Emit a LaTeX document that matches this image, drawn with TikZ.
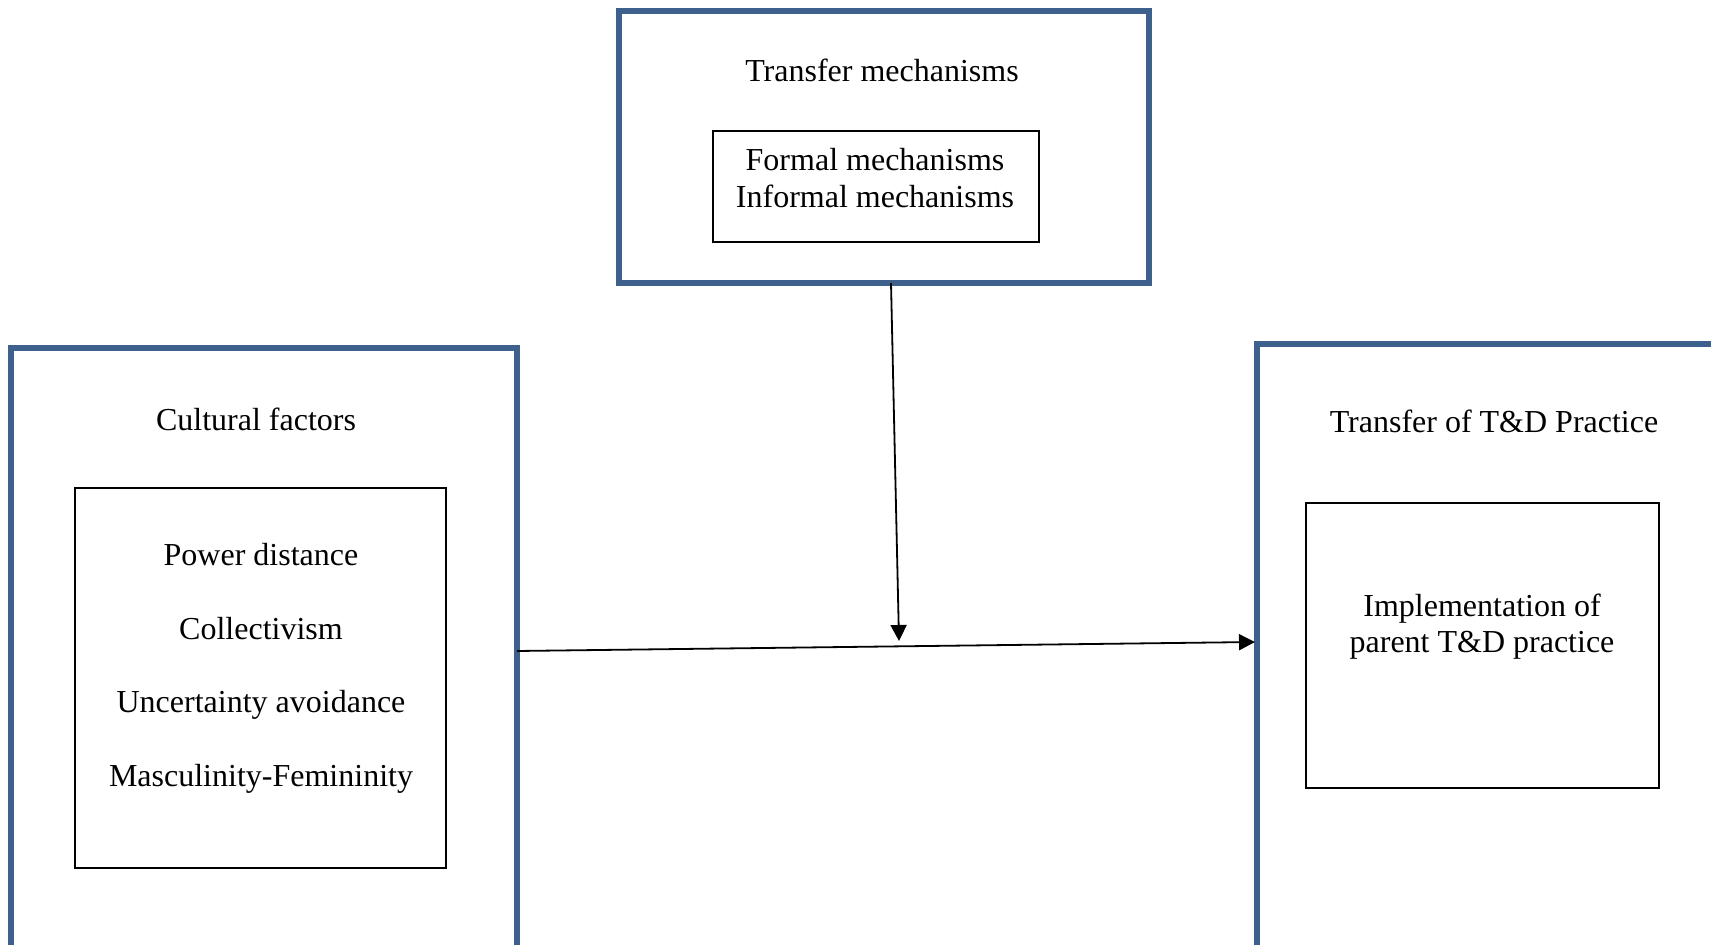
\documentclass[tikz,border=0pt]{standalone}
\usepackage{fontspec}
\setmainfont{Liberation Serif}
\usetikzlibrary{arrows.meta}
\definecolor{frameblue}{RGB}{62,96,140}
\begin{document}
\begin{tikzpicture}[x=0.5pt,y=-0.5pt,
  outerbox/.style={draw=frameblue,line width=2.6pt,inner sep=0pt,outer sep=0pt},
  innerbox/.style={draw=black,line width=0.55pt,inner sep=0pt,outer sep=0pt},
  label/.style={inner sep=0pt,anchor=base,font=\fontsize{16}{18}\selectfont},
  arr/.style={draw=black,line width=0.9pt,-{Triangle[length=8pt,width=8pt]}}]
\useasboundingbox (0,0) rectangle (1711,945);
\fill[white] (0,0) rectangle (1711,945);
\clip (0,0) rectangle (1711,945);

% top block: transfer mechanisms
\node[outerbox,minimum width=265pt,minimum height=136pt] (top) at (884,147) {};
\node[innerbox,minimum width=163pt,minimum height=55.5pt] (topin) at (876,186.5) {};
\node[label] (ttl) at (882,82) {Transfer mechanisms};
\node[label] (tf) at (875,171) {Formal mechanisms};
\node[label] (ti) at (875,208) {Informal mechanisms};

% left block: cultural factors
\node[outerbox,minimum width=253pt,minimum height=308.5pt] (left) at (264,656.5) {};
\node[innerbox,minimum width=185.5pt,minimum height=190pt] (leftin) at (260.5,678) {};
\node[label] (ltl) at (256,431) {Cultural factors};
\node[label] (l1) at (261,566) {Power distance};
\node[label] (l2) at (261,639) {Collectivism};
\node[label] (l3) at (261,712) {Uncertainty avoidance};
\node[label] (l4) at (261,786) {Masculinity-Femininity};

% right block: transfer of practice
\node[outerbox,minimum width=236.5pt,minimum height=310.5pt] (right) at (1493.5,654.5) {};
\node[innerbox,minimum width=176.5pt,minimum height=142.5pt] (rightin) at (1482.5,645.5) {};
\node[label] (rtl) at (1494,433) {Transfer of T\&D Practice};
\node[label] (r1) at (1482,616) {Implementation of};
\node[label] (r2) at (1482,652) {parent T\&D practice};

% connectors
\coordinate (meet) at (899,641);
\draw[arr] ([yshift=2.75pt]left.east) -- ([yshift=6.25pt,xshift=-1pt]right.west);
\draw[arr] ([xshift=3.5pt]top.south) -- (meet);
\end{tikzpicture}
\end{document}
